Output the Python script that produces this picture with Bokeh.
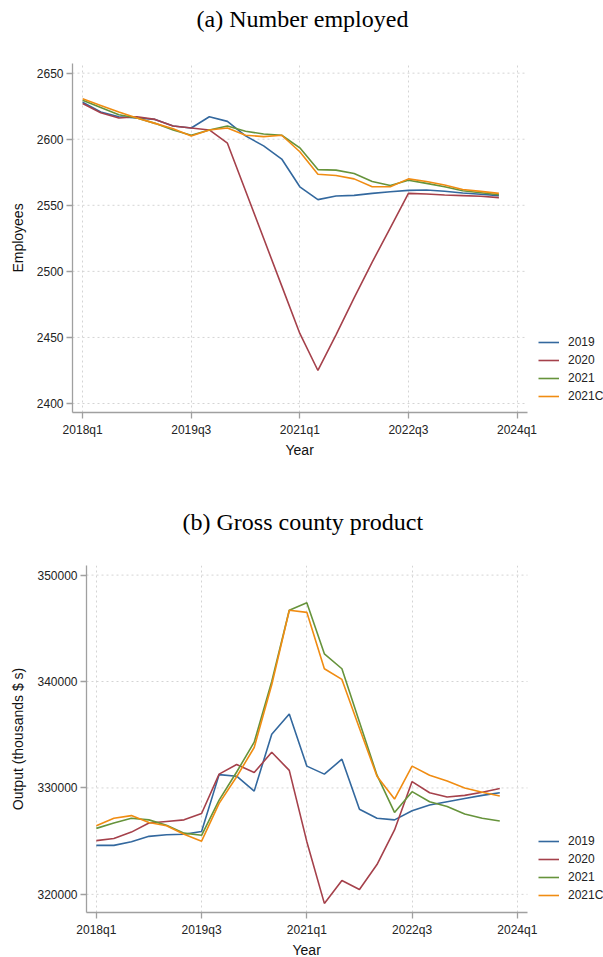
from bokeh.plotting import figure
from bokeh.models import FixedTicker, Legend, LegendItem, Range1d, NumeralTickFormatter, Title
from bokeh.embed import file_html
from bokeh.resources import INLINE

quarters = ["2018q1", "2018q2", "2018q3", "2018q4", "2019q1", "2019q2", "2019q3", "2019q4",
            "2020q1", "2020q2", "2020q3", "2020q4", "2021q1", "2021q2", "2021q3", "2021q4",
            "2022q1", "2022q2", "2022q3", "2022q4", "2023q1", "2023q2", "2023q3", "2023q4"]
x_tick_labels = ["2018q1", "2019q3", "2021q1", "2022q3", "2024q1"]

series_names = ["2019", "2020", "2021", "2021C"]

emp_2019 = [2628, 2620.6, 2617, 2616, 2615, 2610, 2608.5, 2617, 2613.5, 2602.5, 2595, 2585,
            2564, 2554.3, 2557, 2557.5, 2559, 2560.3, 2561.3, 2561.6, 2560.6, 2559.3, 2558.3, 2557.3]
emp_2020 = [2627, 2620, 2616, 2617, 2615, 2610, 2608.5, 2607, 2597, 2561, 2525, 2489,
            2453, 2425, 2452, 2480, 2507, 2533, 2559, 2558.5, 2557.8, 2557.3, 2556.8, 2555.8]
emp_2021 = [2629.5, 2624, 2618.5, 2616, 2612, 2607, 2603, 2607, 2610, 2606, 2604, 2603,
            2593.5, 2577, 2576.6, 2574, 2568, 2565, 2569, 2566.6, 2564, 2561, 2559.5, 2558]
emp_2021c = [2630.6, 2625.6, 2620.6, 2616, 2612, 2608, 2602.5, 2607, 2608.5, 2603, 2602, 2603,
             2590.5, 2573.5, 2572.6, 2570, 2564, 2564, 2570, 2568, 2565.3, 2562, 2560.5, 2559]
emp_ticks = [2400, 2450, 2500, 2550, 2600, 2650]

gcp_2019 = [324600, 324600, 324950, 325450, 325600, 325650, 325900, 331250, 331100, 329700, 335050, 336950,
            332050, 331300, 332700, 328000, 327150, 327000, 327850, 328400, 328700, 329000, 329300, 329550]
gcp_2020 = [325050, 325250, 325850, 326700, 326850, 327000, 327600, 331300, 332200, 331450, 333350, 331650,
            324950, 319150, 321300, 320450, 322800, 326050, 330600, 329550, 329150, 329300, 329600, 329950]
gcp_2021 = [326200, 326700, 327150, 327000, 326500, 325750, 325550, 328850, 331500, 334300, 340000, 346700,
            347400, 342600, 341200, 336200, 331200, 327700, 329650, 328700, 328250, 327550, 327150, 326900]
gcp_2021c = [326450, 327150, 327400, 326750, 326450, 325650, 325000, 328550, 331050, 333800, 339700, 346700,
             346500, 341200, 340200, 335600, 331100, 328950, 332050, 331200, 330650, 330000, 329600, 329250]
gcp_ticks = [320000, 330000, 340000, 350000]

colors = ["#33689e", "#a5414b", "#66933b", "#f08c12"]


def qindex(label):
    year, q = label.split("q")
    return (int(year) - 2018) * 4 + int(q) - 1


xs = [qindex(q) for q in quarters]
x_tick_pos = [qindex(t) for t in x_tick_labels]

SANS = "Liberation Sans"
W = 603
X0, X1 = -0.56, 24.58   # visible axis extent (quarters)
AXIS_RIGHT = 527


def make_panel(title, ylabel, series, yticks, yrange, height, left, top, bottom,
               title_offset, spacer, xlabel_offset, legend_xy):
    # frame extends to the canvas right edge; the axis only spans X0..X1
    plot_w = W - left
    axis_w = AXIS_RIGHT - left
    x_end = X0 + (X1 - X0) * plot_w / axis_w
    p = figure(width=W, height=height, output_backend="svg", toolbar_location=None,
               x_range=Range1d(X0, x_end), y_range=Range1d(*yrange),
               min_border_left=left, min_border_right=0, min_border_top=top,
               min_border_bottom=bottom)
    p.title = None
    # spacer (closest to frame) then the visible title above it
    p.add_layout(Title(text=" ", text_font_size="1px", standoff=spacer), "above")
    p.add_layout(Title(text=title, text_font="Liberation Serif", text_font_size="24px",
                       text_font_style="normal", align="left", offset=title_offset,
                       standoff=0, text_color="#000000"), "above")
    p.outline_line_color = None
    p.background_fill_color = "white"
    p.border_fill_color = "white"

    # horizontal grid lines limited to the axis extent
    p.segment(x0=[X0] * len(yticks), x1=[X1] * len(yticks), y0=yticks, y1=yticks,
              line_color="#d4d4d4", line_dash="2 3", line_width=1)
    p.ygrid.grid_line_color = None

    renderers = []
    for name, ys, c in zip(series_names, series, colors):
        r = p.line(xs, ys, line_color=c, line_width=1.6)
        renderers.append((name, r))

    p.xaxis.ticker = FixedTicker(ticks=x_tick_pos)
    p.xaxis.major_label_overrides = {pos: lab for pos, lab in zip(x_tick_pos, x_tick_labels)}
    p.xaxis.bounds = (X0, X1)
    p.yaxis.ticker = FixedTicker(ticks=yticks)
    p.yaxis.formatter = NumeralTickFormatter(format="0")
    p.yaxis.axis_label = ylabel
    for ax in (p.xaxis, p.yaxis):
        ax.axis_line_color = "#a0a0a0"
        ax.axis_line_width = 1.3
        ax.major_tick_line_color = "#a0a0a0"
        ax.major_tick_line_width = 1.3
        ax.major_tick_out = 6
        ax.major_tick_in = 0
        ax.minor_tick_line_color = None
        ax.major_label_text_font = SANS
        ax.major_label_text_font_size = "12px"
        ax.major_label_text_color = "#222222"
        ax.axis_label_text_font = SANS
        ax.axis_label_text_font_size = "14px"
        ax.axis_label_text_font_style = "normal"
        ax.axis_label_text_color = "#111111"
    p.xaxis.major_label_standoff = 4
    p.yaxis.major_label_standoff = 3
    p.yaxis.axis_label_standoff = 8

    # x axis title, centred under the visible axis (not the whole frame)
    p.add_layout(Title(text="Year", text_font=SANS, text_font_size="14px",
                       text_font_style="normal", align="left", offset=xlabel_offset,
                       standoff=0, text_color="#111111"), "below")

    p.xgrid.grid_line_color = "#d4d4d4"
    p.xgrid.grid_line_dash = "2 3"
    p.xgrid.grid_line_width = 1

    legend = Legend(items=[LegendItem(label=n, renderers=[r]) for n, r in renderers],
                    location=legend_xy)
    legend.border_line_color = None
    legend.background_fill_alpha = 0
    legend.padding = 0
    legend.margin = 0
    legend.spacing = 0
    legend.glyph_width = 21
    legend.glyph_height = 18
    legend.label_height = 18
    legend.label_standoff = 9
    legend.label_text_font = SANS
    legend.label_text_font_size = "12px"
    legend.label_text_color = "#222222"
    p.add_layout(legend)
    return p


# panel (a): frame x 72..527 (axis), y 63..412 on a 500px tall canvas
pa = make_panel("(a) Number employed", "Employees",
                [emp_2019, emp_2020, emp_2021, emp_2021c], emp_ticks,
                (2393.2, 2657.3), 500, 72, 63, 88, 124, 29, 213, (466, 7))
# panel (b): frame x 86..527, y 65..415 on a 457px tall canvas
pb = make_panel("(b) Gross county product", "Output (thousands $ s)",
                [gcp_2019, gcp_2020, gcp_2021, gcp_2021c], gcp_ticks,
                (318294, 350904), 457, 86, 65, 42, 96, 28, 206, (452, 8))

open("out.html", "w").write(file_html([pa, pb], INLINE))
